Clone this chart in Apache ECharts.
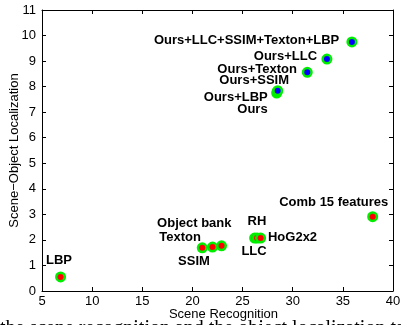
<!DOCTYPE html>
<html>
<head>
<meta charset="utf-8">
<script src="https://cdn.jsdelivr.net/npm/echarts@6/dist/echarts.min.js"></script>
<style>html,body{margin:0;padding:0;background:#fff}#c{width:401px;height:325px}</style>
</head>
<body>
<div id="c"></div>
<script>
// Baseline methods (red markers)
const baseNames = ['LBP','SSIM','Texton','Object bank','RH','LLC','HoG2x2','Comb 15 features'];
const baseX = [6.85, 20.98, 22.0, 22.9, 26.2, 26.45, 26.8, 37.97];
const baseY = [0.55, 1.69, 1.72, 1.77, 2.07, 2.07, 2.07, 2.91];
// Our methods (blue markers)
const oursNames = ['Ours','Ours+LBP','Ours+SSIM','Ours+Texton','Ours+LLC','Ours+LLC+SSIM+Texton+LBP'];
const oursX = [28.4, 28.45, 28.5, 31.45, 33.41, 35.9];
const oursY = [7.75, 7.8, 7.84, 8.56, 9.08, 9.75];
// Axis ticks
const xTicks = [5,10,15,20,25,30,35,40];
const yTicks = [0,1,2,3,4,5,6,7,8,9,10,11];

// label placement offsets (pixels, style only)
const baseLabelOffsets = [[-1.6,-17],[-8.3,13.9],[-32.4,-9.8],[-27.2,-22.5],[2.3,-16.4],[-3.1,13.6],[31.9,-0.4],[-38.9,-14.3]];
const oursLabelOffsets = [[-24.2,16.3],[-41.4,6],[-23.5,-10.4],[-50.1,-3.2],[-41.5,-3],[-105.3,-1.9]];

const FONT = '"Liberation Sans", Arial, Helvetica, sans-serif';
const labelStyle = {show:true, position:'inside', fontFamily:FONT, fontWeight:'bold', fontSize:13, color:'#000', align:'center', verticalAlign:'middle'};

function mk(names, xs, ys, offs){
  return names.map((n,i)=>({name:n, value:[xs[i], ys[i]], label:Object.assign({}, labelStyle, {offset:offs[i], formatter:n})}));
}

const chart = echarts.init(document.getElementById('c'), null, {renderer:'canvas'});
const axisCommon = {
  axisLine:{show:true, onZero:false, lineStyle:{color:'#000', width:1}},
  axisTick:{show:true, inside:true, length:4, lineStyle:{color:'#000'}},
  splitLine:{show:false}
};
chart.setOption({
  animation:false,
  backgroundColor:'#fff',
  grid:{left:42, right:8, top:10, bottom:34, containLabel:false, outerBoundsMode:'none'},
  xAxis:[
    Object.assign({type:'value', min:xTicks[0], max:xTicks[xTicks.length-1], interval:5, position:'bottom',
      name:'Scene Recognition', nameLocation:'middle', nameGap:17, nameMoveOverlap:false,
      nameTextStyle:{fontFamily:FONT, fontSize:13, color:'#000', padding:[0,0,0,12]},
      axisLabel:{fontFamily:FONT, fontSize:13, color:'#000', margin:4}}, axisCommon),
    Object.assign({type:'value', min:xTicks[0], max:xTicks[xTicks.length-1], interval:5, position:'top',
      axisLabel:{show:false}}, axisCommon)
  ],
  yAxis:[
    Object.assign({type:'value', min:yTicks[0], max:yTicks[yTicks.length-1], interval:1, position:'left',
      name:'Scene\u2212Object Localization', nameLocation:'middle', nameGap:21, nameMoveOverlap:false,
      nameTextStyle:{fontFamily:FONT, fontSize:13, color:'#000'},
      axisLabel:{fontFamily:FONT, fontSize:13, color:'#000', margin:6}}, axisCommon),
    Object.assign({type:'value', min:yTicks[0], max:yTicks[yTicks.length-1], interval:1, position:'right',
      axisLabel:{show:false}}, axisCommon)
  ],
  series:[
    {type:'scatter', symbol:'circle', symbolSize:8.5, xAxisIndex:0, yAxisIndex:0,
      itemStyle:{color:'#ff0000', borderColor:'#00ee00', borderWidth:2.5, opacity:1},
      data:mk(baseNames, baseX, baseY, baseLabelOffsets)},
    {type:'scatter', symbol:'circle', symbolSize:8.5, xAxisIndex:0, yAxisIndex:0,
      itemStyle:{color:'#0000ff', borderColor:'#00ee00', borderWidth:2.5, opacity:1},
      data:mk(oursNames, oursX, oursY, oursLabelOffsets)}
  ],
  graphic:[
    {type:'text', left:0, top:319, silent:true, z:-1,
      style:{text:'the scene recognition and the object localization tasks', font:'20px "Liberation Serif", "Times New Roman", serif', fill:'#000'}}
  ]
});
</script>
</body>
</html>
